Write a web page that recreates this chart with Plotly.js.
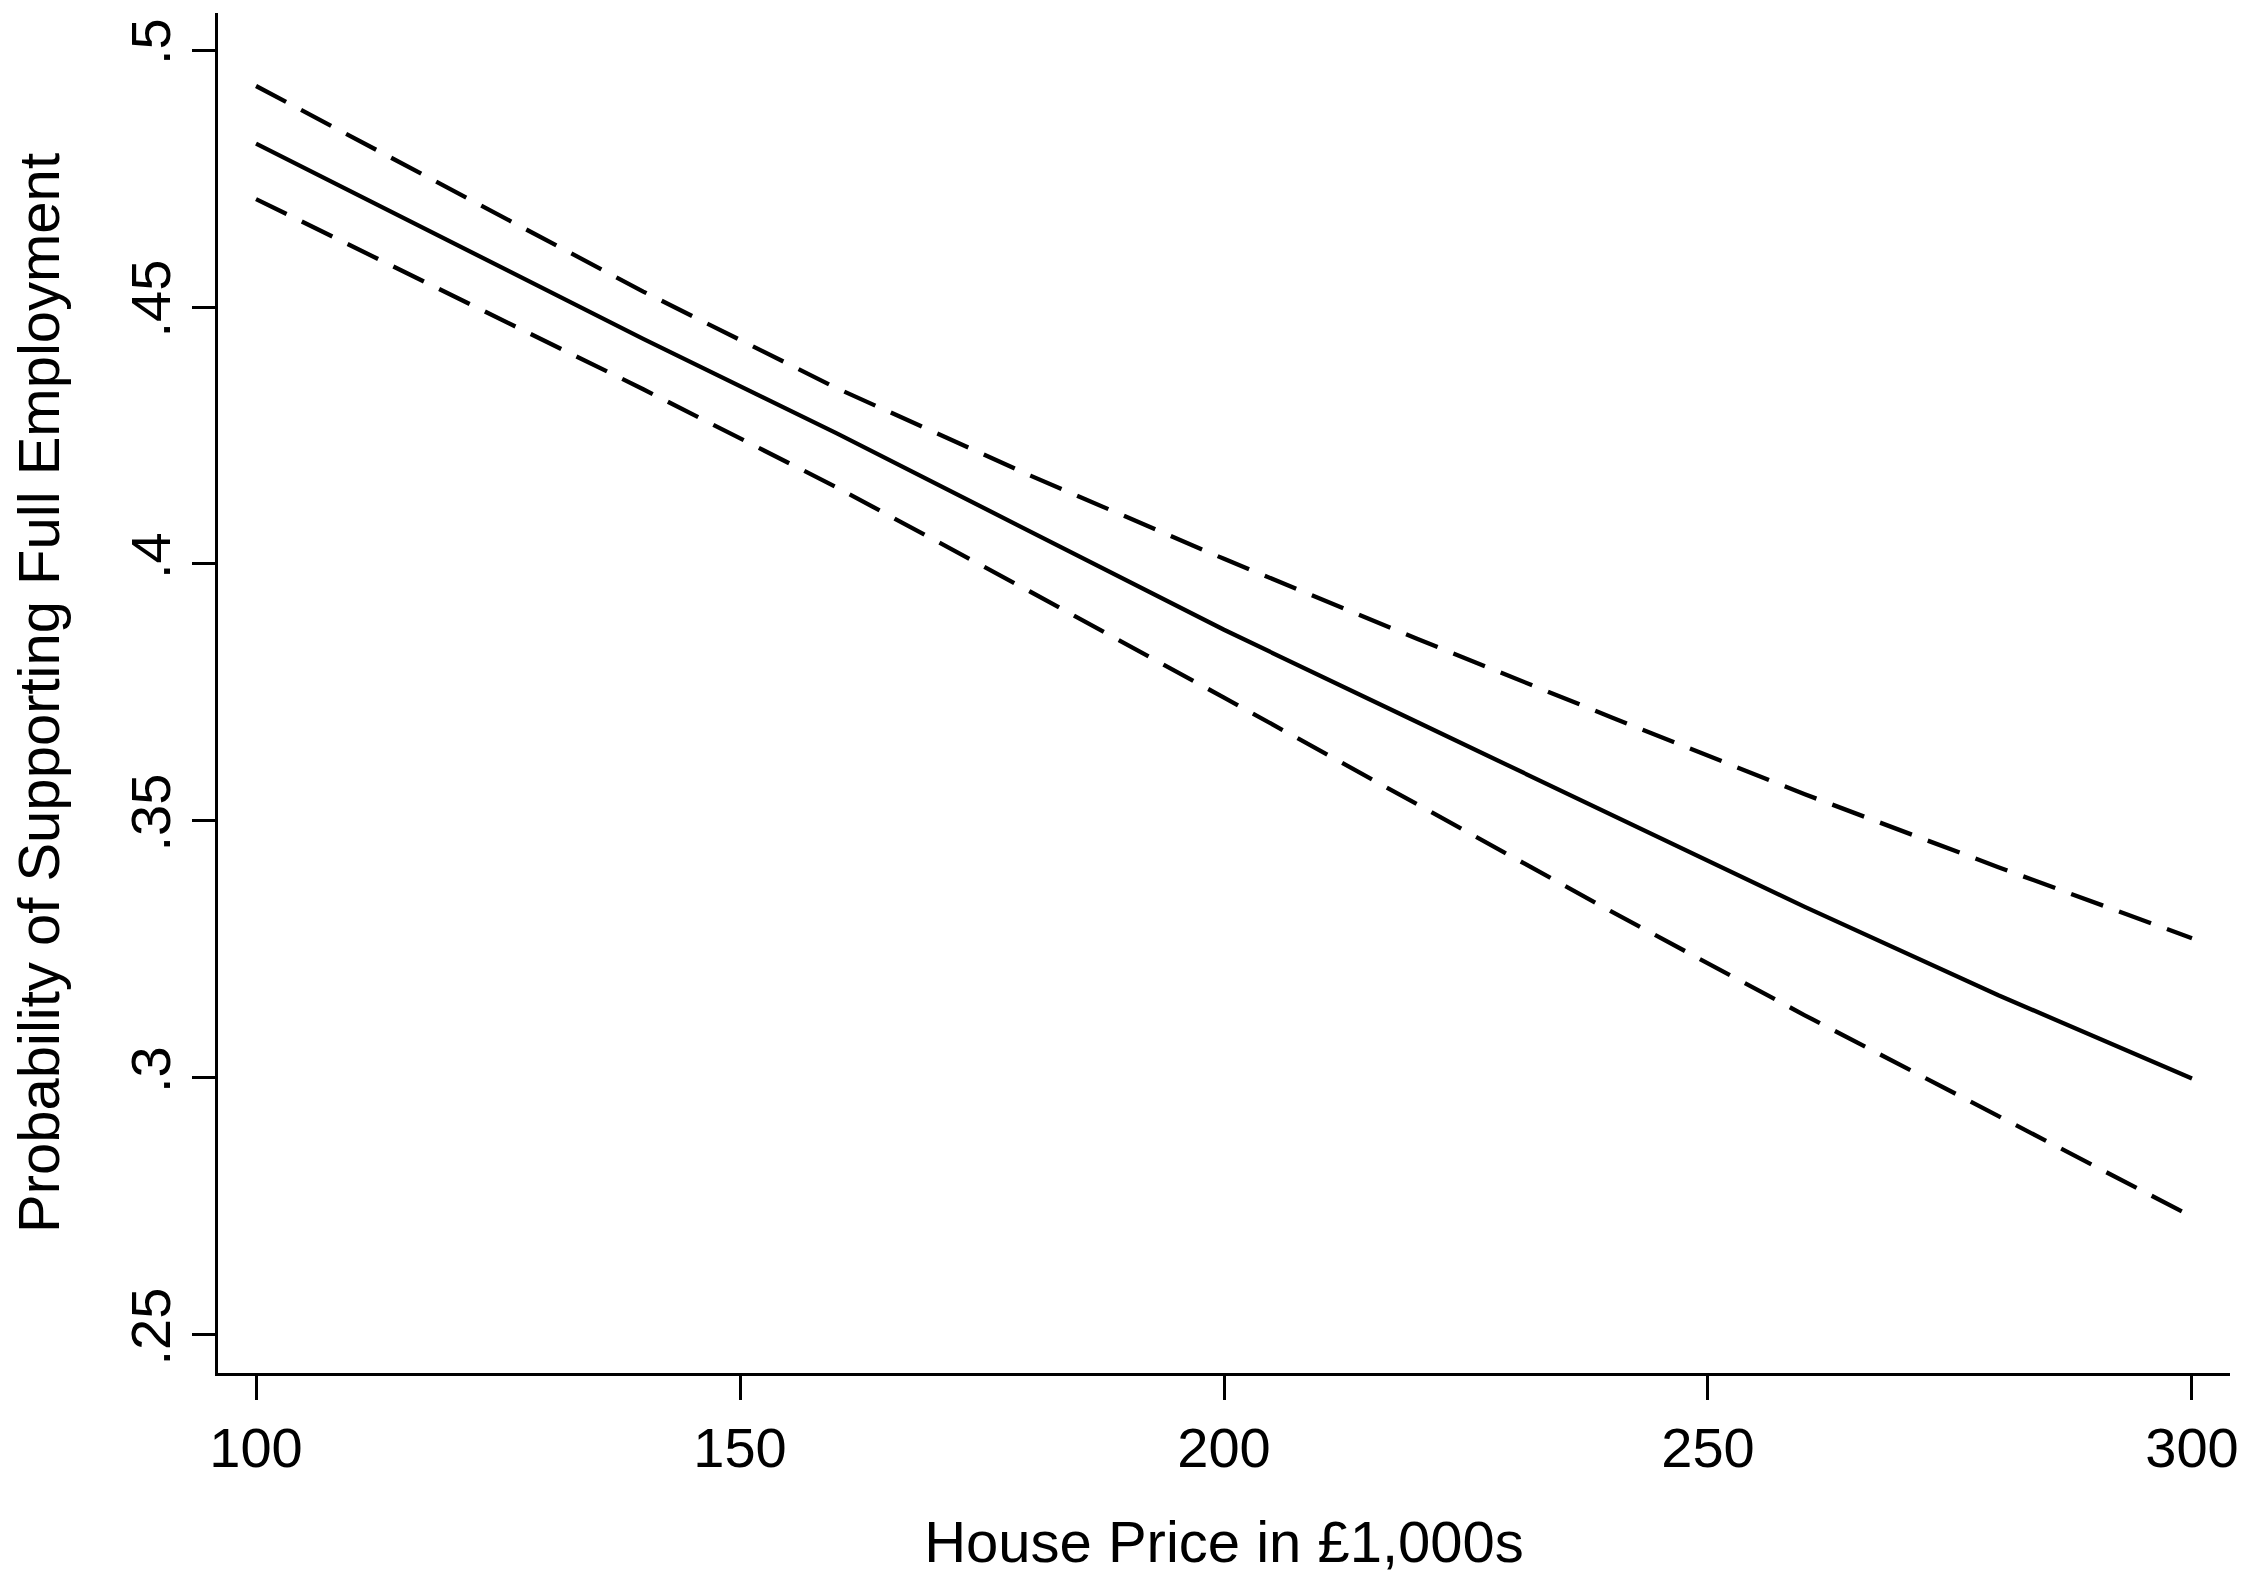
<!DOCTYPE html>
<html>
<head>
<meta charset="utf-8">
<script src="https://cdn.plot.ly/plotly-3.0.1.min.js"></script>
<style>
  html, body { margin: 0; padding: 0; background: #ffffff; }
  #chart { width: 2265px; height: 1574px; }
</style>
</head>
<body>
<div id="chart"></div>
<script>
// House price (in £1,000s) at which predicted probabilities are evaluated
const housePrice = [100, 120, 140, 160, 180, 200, 220, 240, 260, 280, 300];

// Predicted probability of supporting full employment
const predicted = [0.4818, 0.4628, 0.4438, 0.4254, 0.4063, 0.3872, 0.3692, 0.3512, 0.3333, 0.3161, 0.2999];

// Upper and lower bounds of the confidence interval
const upperBound = [0.4930, 0.4730, 0.4530, 0.4342, 0.4172, 0.4010, 0.3854, 0.3702, 0.3552, 0.3410, 0.3272];
const lowerBound = [0.4710, 0.4525, 0.4340, 0.4149, 0.3946, 0.3740, 0.3532, 0.3324, 0.3122, 0.2925, 0.2730];

// Axis ticks
const xTicks = [100, 150, 200, 250, 300];
const yTicks = [0.25, 0.3, 0.35, 0.4, 0.45, 0.5];
const yTickLabels = ['.25', '.3', '.35', '.4', '.45', '.5'];

const FONT = 'Liberation Sans, Arial, Helvetica, sans-serif';

const traces = [
  {
    x: housePrice, y: upperBound, type: 'scatter', mode: 'lines',
    line: { color: '#000000', width: 4.3, dash: '34px,17px' },
    hoverinfo: 'x+y', showlegend: false
  },
  {
    x: housePrice, y: predicted, type: 'scatter', mode: 'lines',
    line: { color: '#000000', width: 4.3 },
    hoverinfo: 'x+y', showlegend: false
  },
  {
    x: housePrice, y: lowerBound, type: 'scatter', mode: 'lines',
    line: { color: '#000000', width: 4.3, dash: '34px,17px' },
    hoverinfo: 'x+y', showlegend: false
  }
];

const layout = {
  width: 2265,
  height: 1574,
  paper_bgcolor: '#ffffff',
  plot_bgcolor: '#ffffff',
  margin: { l: 218, r: 35, t: 13, b: 201, pad: 0 },
  font: { family: FONT, color: '#000000', size: 56 },
  showlegend: false,
  xaxis: {
    range: [96.07, 303.93],
    tickvals: xTicks,
    ticktext: xTicks.map(String),
    ticks: 'outside', ticklen: 24, tickwidth: 3, tickcolor: '#000000',
    showline: true, linewidth: 3, linecolor: '#000000',
    showgrid: false, zeroline: false,
    tickfont: { family: FONT, size: 56, color: '#000000' },
    title: { text: 'House Price in £1,000s', font: { family: FONT, size: 58, color: '#000000' }, standoff: 45 }
  },
  yaxis: {
    range: [0.2426, 0.5072],
    tickvals: yTicks,
    ticktext: yTickLabels,
    tickangle: -90,
    ticks: 'outside', ticklen: 23, tickwidth: 3, tickcolor: '#000000',
    showline: true, linewidth: 3, linecolor: '#000000',
    showgrid: false, zeroline: false,
    tickfont: { family: FONT, size: 56, color: '#000000' },
    title: { text: 'Probability of Supporting Full Employment', font: { family: FONT, size: 58, color: '#000000' }, standoff: 41 }
  }
};

Plotly.newPlot('chart', traces, layout, { displayModeBar: false, staticPlot: true });
</script>
</body>
</html>
